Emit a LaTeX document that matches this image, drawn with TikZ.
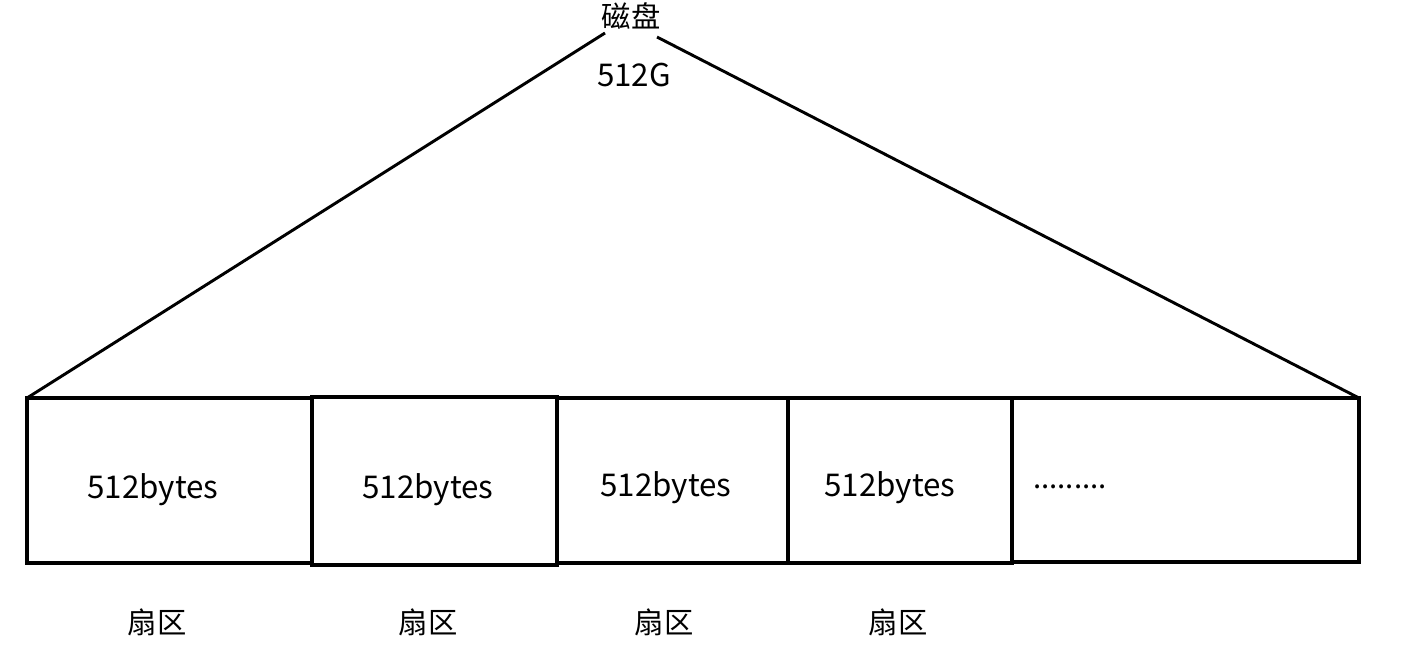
\documentclass[tikz,border=0pt]{standalone}
\usepackage{fontspec}
\setmainfont{Noto Sans CJK SC}
\begin{document}
\begin{tikzpicture}[x=0.75pt,y=-0.75pt,
  sector/.style={draw,line width=3pt,inner sep=0pt,outer sep=0pt},
  lbl/.style={inner sep=0pt,font=\fontsize{22}{26}\selectfont},
  num/.style={inner sep=0pt,font=\fontsize{23.5}{27}\selectfont},
  edge/.style={line width=2.2pt}]
\useasboundingbox (0,0) rectangle (1401,651);
\node[sector,minimum width=285*0.75pt,minimum height=165*0.75pt] (b1) at (169.5,480.5) {};
\node[sector,line width=3.6pt,minimum width=245*0.75pt,minimum height=168*0.75pt] (b2) at (434.5,481) {};
\node[sector,minimum width=231*0.75pt,minimum height=165*0.75pt] (b3) at (672.5,480) {};
\node[sector,minimum width=224*0.75pt,minimum height=165*0.75pt] (b4) at (900,480) {};
\node[sector,minimum width=347*0.75pt,minimum height=164*0.75pt] (b5) at (1185.5,480) {};
\node[num] (t1) at (153,490) {512bytes};
\node[num] (t2) at (428,490) {512bytes};
\node[num] (t3) at (666,488) {512bytes};
\node[num] (t4) at (890,488) {512bytes};
\node[lbl] (t5) at (1070,487) {.........};
\node[lbl] (s1) at (157,622) {扇区};
\node[lbl] (s2) at (428,622) {扇区};
\node[lbl] (s3) at (664,622) {扇区};
\node[lbl] (s4) at (898,622) {扇区};
\node[lbl] (disk) at (631,16) {磁盘};
\node[num] (size) at (634,75) {512G};
\coordinate (L) at (605,33);
\coordinate (R) at (657,37);
\draw[edge] (b1.north west) -- (L);
\draw[edge] (b5.north east) -- (R);
\end{tikzpicture}
\end{document}
